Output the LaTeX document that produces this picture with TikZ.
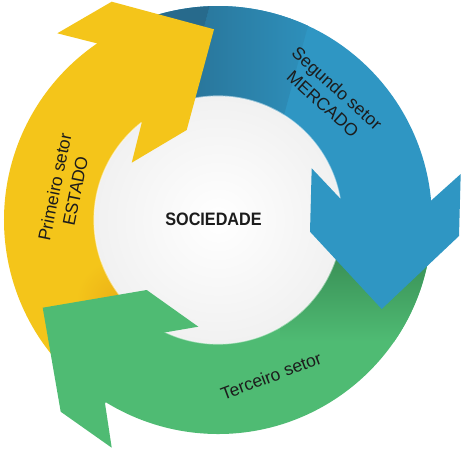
\documentclass[tikz,border=0pt]{standalone}
\usepackage{fontspec}
\setmainfont{Liberation Sans}
\definecolor{yel}{HTML}{F4C51A}
\definecolor{yelD}{HTML}{ECB116}
\definecolor{blu}{HTML}{2F96C3}
\definecolor{bluD}{HTML}{276A8C}
\definecolor{grn}{HTML}{4FBB73}
\definecolor{grnD}{HTML}{3A9157}
\definecolor{txt}{HTML}{1C1C1C}
\begin{document}
\begin{tikzpicture}[x=1pt,y=1pt,
  lbl/.style={text=txt, font=\fontsize{17.5}{21}\selectfont, align=center, inner sep=0pt},
  title/.style={text=txt, font=\fontsize{18}{20}\selectfont\bfseries, inner sep=0pt}]
\useasboundingbox (0,0) rectangle (466,451);
\fill[white] (0,0) rectangle (466,451);
\coordinate (C) at (218,231);
% central disc
\shade[inner color=white, outer color=gray!11] (C) circle[radius=124];
% yellow body
\begin{scope}
\clip ([shift={(222:214)}]C) arc[start angle=222,end angle=122.4,radius=214]
  -- ([shift={(126.1:124)}]C) arc[start angle=126.1,end angle=222,radius=124] -- cycle;
\fill[yel] (0,0) rectangle (466,451);
\shade[inner color=yelD, outer color=yel] (118,150) circle[radius=42];
\end{scope}
% blue body
\begin{scope}
\clip ([shift={(112:214)}]C) arc[start angle=112,end angle=3.4,radius=214]
  -- ([shift={(8.7:124)}]C) arc[start angle=8.7,end angle=112,radius=124] -- cycle;
\fill[blu] (0,0) rectangle (466,451);
\begin{scope}[shift={(200,370)}, rotate=-15]
\shade[left color=bluD, middle color=blu!55!bluD, right color=blu] (-10,-200) rectangle (90,200);
\fill[bluD] (-120,-200) rectangle (-10,200);
\end{scope}
\end{scope}
% green body
\begin{scope}
\clip ([shift={(-6:214)}]C) arc[start angle=-6,end angle=-123.5,radius=214]
  -- ([shift={(-117.9:124)}]C) arc[start angle=-117.9,end angle=-6,radius=124] -- cycle;
\fill[grn] (0,0) rectangle (466,451);
\shade[top color=grnD, bottom color=grn] (280,110) rectangle (466,192);
\fill[grnD] (280,192) rectangle (466,260);
\end{scope}
% halo of disc
\draw[white, opacity=0.5, line width=1.2pt] (C) circle[radius=124];
% heads
\fill[yel] (96.7,407.7) -- (57.3,417.7) -- (111.7,449.3) -- (214,421.7) -- (186.7,321) -- (131.7,288.3) -- (141.7,328.3) -- cycle;
\fill[blu] (431,250.3) -- (460.7,277) -- (459,215) -- (381.7,142) -- (310,219.3) -- (311.7,282.7) -- (340,252.7) -- cycle;
\fill[grn] (105,47.7) -- (111.7,3.3) -- (60.7,39.3) -- (42.7,143.3) -- (146.7,161) -- (198.3,124.3) -- (163.3,118.3) -- cycle;
% labels
\node[lbl, rotate=78.5] (l1) at (65,262) {Primeiro setor\\ESTADO};
\node[lbl, rotate=-42] (l2) at (330,355) {Segundo setor\\MERCADO};
\node[lbl, rotate=20.5] (l3) at (271,75) {Terceiro setor};
\node[title] (soc) at (213.5,232) {\scalebox{0.9}[1]{SOCIEDADE}};
\end{tikzpicture}
\end{document}
